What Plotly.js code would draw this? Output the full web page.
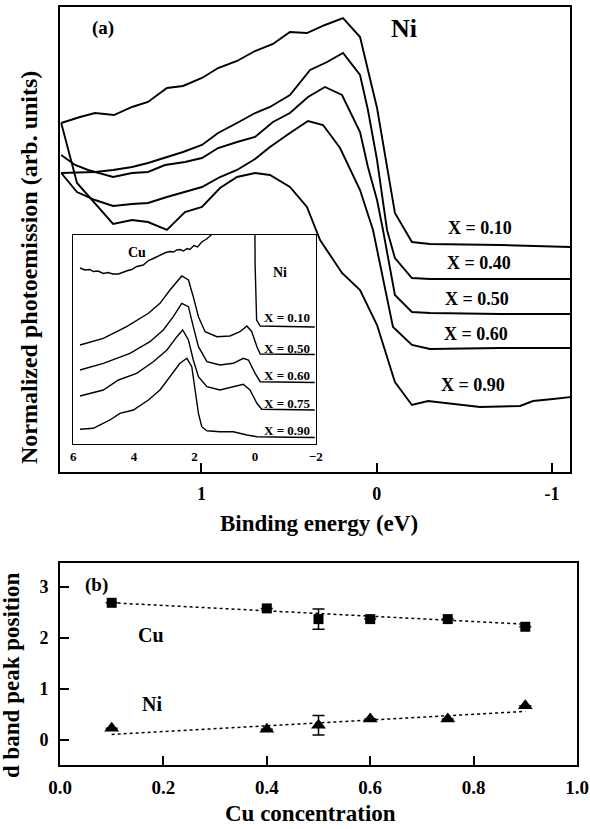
<!DOCTYPE html>
<html>
<head>
<meta charset="utf-8">
<script src="https://cdn.plot.ly/plotly-3.0.1.min.js"></script>
<style>
html,body{margin:0;padding:0;background:#fff;}
#chart{width:590px;height:829px;}
</style>
</head>
<body>
<div id="chart"></div>
<script>
// ---------- Panel (a): main spectra (binding energy, eV / normalized intensity, arb. units)
const beX010 = [1.80,1.693,1.607,1.499,1.396,1.305,1.197,1.105,0.997,0.905,0.797,0.694,0.592,0.495,0.398,0.295,0.192,0.095,-0.002,-0.104,-0.201,-0.304,-0.704,-1.11];
const inX010 = [34.9,35.5,35.9,35.7,36.5,37.0,38.4,38.6,39.4,40.4,41.1,42.1,42.8,44.0,43.9,44.7,45.4,43.5,36.4,25.9,23.0,22.8,22.7,22.5];

const beX040 = [1.80,1.607,1.504,1.396,1.305,1.208,1.105,0.997,0.905,0.797,0.694,0.609,0.495,0.380,0.283,0.192,0.095,0.050,-0.002,-0.059,-0.104,-0.201,-0.304,-0.704,-1.11];
const inX040 = [29.9,30.0,30.2,30.5,30.9,31.4,32.0,32.7,33.9,34.9,35.9,36.5,37.7,40.2,41.0,41.9,39.7,36.2,31.2,24.2,21.4,19.4,19.3,19.3,19.3];

const beX050 = [1.80,1.721,1.647,1.504,1.396,1.305,1.208,1.094,0.997,0.905,0.797,0.694,0.592,0.495,0.392,0.295,0.198,0.095,0.050,-0.002,-0.036,-0.104,-0.201,-0.304,-0.704,-1.11];
const inX050 = [31.7,30.7,30.2,29.5,29.9,30.0,30.7,31.0,31.4,32.4,33.0,33.5,35.0,35.9,37.5,38.5,37.7,34.0,30.5,27.2,24.2,17.7,16.0,15.9,15.8,15.8];

const beX060 = [1.80,1.710,1.607,1.504,1.396,1.305,1.197,1.094,0.997,0.894,0.797,0.694,0.609,0.495,0.392,0.306,0.209,0.095,0.021,-0.093,-0.201,-0.304,-0.704,-1.11];
const inX060 = [29.9,28.0,27.2,26.6,26.8,26.9,27.5,28.0,28.5,29.5,30.2,31.3,32.5,33.9,35.1,34.7,32.4,28.2,24.2,14.5,12.7,12.3,12.4,12.4];

const beX090 = [1.80,1.710,1.504,1.396,1.305,1.197,1.094,0.997,0.894,0.797,0.694,0.609,0.495,0.398,0.323,0.198,0.095,-0.002,-0.104,-0.201,-0.293,-0.590,-0.818,-0.892,-1.006,-1.11];
const inX090 = [34.9,28.9,24.8,25.2,25.0,24.2,26.0,26.5,28.4,29.5,29.9,29.7,28.5,26.5,23.2,19.9,18.2,14.7,9.0,6.7,7.1,6.5,6.6,7.1,7.3,7.5];

const mainLabels = ["X = 0.10","X = 0.40","X = 0.50","X = 0.60","X = 0.90"];
const mainLabelBE = [-0.589,-0.581,-0.575,-0.569,-0.552];
const mainLabelIn = [24.4,20.9,17.3,13.8,8.7];

// ---------- Inset: wide-range spectra
const beI010 = [5.78,5.62,5.45,5.34,5.18,5.01,4.85,4.70,4.51,4.35,4.20,4.07,3.90,3.69,3.52,3.36,3.24,3.10,2.95,2.81,2.70,2.58,2.48,2.36,2.25,2.15,2.02,1.90,1.76,1.60,1.43,1.10,0.60,0.10,0.01,0.0,-0.05,-0.17,-1.16,-1.97];
const inI010 = [17.6,17.4,17.45,17.25,17.3,17.05,17.15,17.0,17.0,17.2,17.35,17.45,17.75,17.9,18.35,18.55,18.75,18.9,19.15,19.25,19.2,19.4,19.45,19.3,19.55,19.45,19.85,19.7,20.2,20.5,20.95,22.5,24.0,24.0,23.0,18.0,12.4,11.8,11.73,11.7];

const beI050 = [5.78,5.01,4.24,3.52,3.14,2.81,2.42,2.20,2.04,1.87,1.65,1.26,0.83,0.50,0.27,0.11,-0.06,-0.17,-1.16,-1.97];
const inI050 = [9.9,10.57,11.73,13.07,14.07,15.4,16.8,16.4,14.73,12.73,11.23,10.73,10.8,11.23,11.8,11.23,9.73,9.0,8.97,8.95];

const beI060 = [5.78,5.01,4.13,3.47,3.03,2.70,2.42,2.20,2.04,1.87,1.59,1.16,0.72,0.39,0.22,0.0,-0.17,-1.16,-1.97];
const inI060 = [7.4,8.07,9.07,10.23,11.4,12.73,14.07,13.73,11.73,9.73,8.23,7.9,8.07,8.57,8.4,7.07,6.23,6.17,6.15];

const beI075 = [5.78,5.01,4.51,3.91,3.36,2.91,2.58,2.39,2.20,2.04,1.87,1.59,1.16,0.72,0.39,0.17,-0.06,-0.22,-1.16,-1.97];
const inI075 = [4.8,5.4,6.4,7.07,8.23,9.4,10.73,11.4,10.4,8.4,6.73,5.73,5.4,5.73,5.97,5.4,4.07,3.47,3.4,3.4];

const beI090 = [5.78,5.34,4.79,4.46,4.02,3.52,3.14,2.81,2.48,2.25,2.09,1.98,1.87,1.76,1.59,1.16,0.72,0.27,-0.06,-1.16,-1.97];
const inI090 = [1.47,1.57,2.4,3.07,3.4,4.4,5.4,6.73,8.07,8.57,7.73,5.4,3.07,1.73,1.33,1.23,1.23,0.9,0.73,0.67,0.65];

const insetLabels = ["X = 0.10","X = 0.50","X = 0.60","X = 0.75","X = 0.90"];
const insetLabelBE = [-1.06,-1.06,-1.06,-1.06,-1.06];
const insetLabelIn = [12.7,9.6,6.9,4.1,1.4];
const insetTicks = [6,4,2,0,-2];

// ---------- Panel (b): d band peak position vs Cu concentration
const conc = [0.1,0.4,0.5,0.6,0.75,0.9];
const cuPeak = [2.69,2.58,2.37,2.37,2.37,2.22];
const cuErr  = [0,0,0.2,0,0,0];
const niPeak = [0.23,0.21,0.29,0.41,0.41,0.67];
const niErr  = [0,0,0.19,0,0,0];
const fitX = [0.1,0.9];
const cuFit = [2.69,2.27];
const niFit = [0.11,0.56];

// ---------- drawing
const SERIF = "Liberation Serif";
const bold = (size) => ({family: SERIF, size: size, color: '#000', weight: 'bold'});
const W = 590, H = 829;
const px = (x) => x / W;
const py = (y) => 1 - y / H;

function line(x, y, xa, ya, w) {
  return {x: x, y: y, xaxis: xa, yaxis: ya, mode: 'lines', type: 'scatter',
          line: {color: '#000', width: w}, hoverinfo: 'skip', showlegend: false};
}

const traces = [
  line(beX010, inX010, 'x', 'y', 1.9),
  line(beX040, inX040, 'x', 'y', 1.9),
  line(beX050, inX050, 'x', 'y', 1.9),
  line(beX060, inX060, 'x', 'y', 1.9),
  line(beX090, inX090, 'x', 'y', 1.9),
  line(beI010, inI010, 'x2', 'y2', 1.4),
  line(beI050, inI050, 'x2', 'y2', 1.4),
  line(beI060, inI060, 'x2', 'y2', 1.4),
  line(beI075, inI075, 'x2', 'y2', 1.4),
  line(beI090, inI090, 'x2', 'y2', 1.4),
  {x: fitX, y: cuFit, xaxis: 'x3', yaxis: 'y3', mode: 'lines', type: 'scatter',
   line: {color: '#000', width: 1.5, dash: 'dot'}, showlegend: false},
  {x: fitX, y: niFit, xaxis: 'x3', yaxis: 'y3', mode: 'lines', type: 'scatter',
   line: {color: '#000', width: 1.5, dash: 'dot'}, showlegend: false},
  {x: conc, y: cuPeak, xaxis: 'x3', yaxis: 'y3', mode: 'markers', type: 'scatter', name: 'Cu',
   marker: {symbol: 'square', size: 10, color: '#000'},
   error_y: {type: 'data', array: cuErr, visible: true, color: '#000', thickness: 1.5, width: 6},
   showlegend: false},
  {x: conc, y: niPeak, xaxis: 'x3', yaxis: 'y3', mode: 'markers', type: 'scatter', name: 'Ni',
   marker: {symbol: 'triangle-up', size: 13, color: '#000'},
   error_y: {type: 'data', array: niErr, visible: true, color: '#000', thickness: 1.5, width: 6},
   showlegend: false}
];

const annotations = [
  {text: '(a)', xref: 'paper', yref: 'paper', x: px(103), y: py(28), font: bold(19)},
  {text: 'Ni', xref: 'paper', yref: 'paper', x: px(404), y: py(29), font: bold(26)},
  {text: 'Normalized photoemission (arb. units)', xref: 'paper', yref: 'paper',
   x: px(29), y: py(268), textangle: -90, font: bold(24)},
  {text: 'Binding energy (eV)', xref: 'paper', yref: 'paper', x: px(319), y: py(523), font: bold(23)},
  {text: 'd band peak position', xref: 'paper', yref: 'paper',
   x: px(11), y: py(676), textangle: -90, font: bold(23)},
  {text: 'Cu concentration', xref: 'paper', yref: 'paper', x: px(310), y: py(813), font: bold(23)},
  {text: 'Cu', xref: 'x2', yref: 'y2', x: 3.9, y: 19.1, font: bold(14)},
  {text: 'Ni', xref: 'x2', yref: 'y2', x: -0.83, y: 17.2, font: bold(14)},
  {text: '(b)', xref: 'x3', yref: 'y3', x: 0.07, y: 3.04, font: bold(19)},
  {text: 'Cu', xref: 'x3', yref: 'y3', x: 0.176, y: 2.06, font: bold(20)},
  {text: 'Ni', xref: 'x3', yref: 'y3', x: 0.178, y: 0.71, font: bold(20)}
];
mainLabels.forEach((t, i) => annotations.push(
  {text: t, xref: 'x', yref: 'y', x: mainLabelBE[i], y: mainLabelIn[i], font: bold(18)}));
insetLabels.forEach((t, i) => annotations.push(
  {text: t, xref: 'x2', yref: 'y2', x: insetLabelBE[i], y: insetLabelIn[i], font: bold(13)}));
annotations.forEach(a => { a.showarrow = false; a.xanchor = 'center'; a.yanchor = 'middle'; });

const frame = {showline: true, mirror: true, linecolor: '#000', showgrid: false, zeroline: false, fixedrange: true};

const layout = {
  width: W, height: H,
  margin: {l: 0, r: 0, t: 0, b: 0},
  paper_bgcolor: '#fff', plot_bgcolor: 'rgba(0,0,0,0)',
  font: {family: SERIF},
  showlegend: false,
  xaxis: Object.assign({}, frame, {
    domain: [px(60), px(570)], range: [1.807, -1.103], anchor: 'y',
    tickvals: [1, 0, -1], ticktext: ['1', '0', '-1'],
    ticks: 'inside', ticklen: 9, tickwidth: 2, tickcolor: '#000', linewidth: 2,
    tickfont: bold(18), ticklabelstandoff: 4
  }),
  yaxis: Object.assign({}, frame, {
    domain: [py(472), py(7)], range: [0, 46.5], anchor: 'x',
    showticklabels: false, ticks: '', linewidth: 2
  }),
  xaxis2: Object.assign({}, frame, {
    domain: [px(73.3), px(315.7)], range: [6, -2], anchor: 'y2',
    tickvals: insetTicks, ticks: '', linewidth: 1.3,
    tickfont: bold(13), ticklabelstandoff: 0
  }),
  yaxis2: Object.assign({}, frame, {
    domain: [py(444), py(235)], range: [0, 20.9], anchor: 'x2',
    showticklabels: false, ticks: '', linewidth: 1.3
  }),
  xaxis3: Object.assign({}, frame, {
    domain: [px(60), px(577)], range: [0, 1], anchor: 'y3',
    tickvals: [0, 0.2, 0.4, 0.6, 0.8, 1.0], tickformat: '.1f',
    ticks: 'inside', ticklen: 9, tickwidth: 2, tickcolor: '#000', linewidth: 2,
    tickfont: bold(19), ticklabelstandoff: 4
  }),
  yaxis3: Object.assign({}, frame, {
    domain: [py(765), py(563)], range: [-0.49, 3.47], anchor: 'x3',
    tickvals: [0, 1, 2, 3],
    ticks: 'inside', ticklen: 9, tickwidth: 2, tickcolor: '#000', linewidth: 2,
    tickfont: bold(18), ticklabelstandoff: 6
  }),
  annotations: annotations
};

Plotly.newPlot('chart', traces, layout, {staticPlot: true, displayModeBar: false});
</script>
</body>
</html>
